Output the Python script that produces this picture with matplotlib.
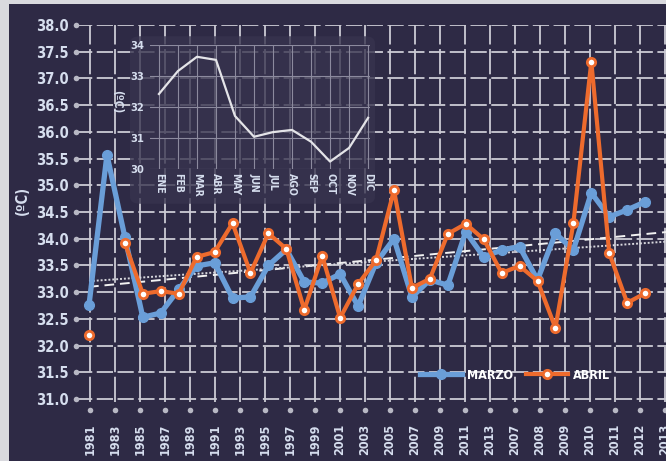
import matplotlib
matplotlib.use("Agg")
import matplotlib.pyplot as plt
import numpy as np
from matplotlib.patches import FancyBboxPatch, Rectangle

# category labels on the lower axis (as printed in the original)
year_labels = ["1981", "1983", "1985", "1987", "1989", "1991", "1993", "1995",
               "1997", "1999", "2001", "2003", "2005", "2007", "2009", "2011",
               "2013", "2007", "2008", "2009", "2010", "2011", "2012", "2013"]

# series values (one per data slot, 32 slots)
marzo = [32.76, 35.57, 34.03, 32.53, 32.61, 33.05, 33.49, 33.55,
         32.89, 32.91, 33.50, 33.80, 33.19, 33.17, 33.34, 32.74,
         33.55, 34.00, 32.91, 33.23, 33.13, 34.13, 33.66, 33.79,
         33.85, 33.23, 34.10, 33.79, 34.86, 34.41, 34.54, 34.69]
abril = [32.20, np.nan, 33.92, 32.97, 33.02, 32.97, 33.66, 33.75,
         34.29, 33.36, 34.10, 33.81, 32.67, 33.68, 32.52, 33.15,
         33.60, 34.91, 33.08, 33.25, 34.09, 34.28, 33.99, 33.36,
         33.49, 33.21, 32.33, 34.29, 37.31, 33.73, 32.80, 32.98]

# inset: monthly means
months = ["ENE", "FEB", "MAR", "ABR", "MAY", "JUN", "JUL", "AGO", "SEP", "OCT", "NOV", "DIC"]
monthly = [32.42, 33.16, 33.62, 33.52, 31.71, 31.04, 31.19, 31.26, 30.88, 30.24, 30.68, 31.65]

y_ticks = np.arange(31.0, 38.01, 0.5)

BG = "#2e2a45"
GRID = "#cccbd5"
LABEL = "#d6deee"
BLUE = "#6a9ed8"
ORANGE = "#ee6b2d"

plt.rcParams["font.family"] = ["Liberation Sans Narrow", "DejaVu Sans"]
plt.rcParams["font.stretch"] = "condensed"
plt.rcParams["font.weight"] = "bold"

fig = plt.figure(figsize=(6.66, 4.61), dpi=100, facecolor=BG)

W, H = 666, 461
# light frame of the original screenshot (top and left edges)
fig.patches.append(Rectangle((0, 0), 9 / W, 1, transform=fig.transFigure,
                             facecolor="#d9d9de", edgecolor="none", zorder=-1))
fig.patches.append(Rectangle((0, 1 - 4 / H), 1, 4 / H, transform=fig.transFigure,
                             facecolor="#d9d9de", edgecolor="none", zorder=-1))

left, right, top, bottom = 76, 690, 25, 401.7
ax = fig.add_axes([left / W, 1 - bottom / H, (right - left) / W, (bottom - top) / H])
ax.set_facecolor(BG)
for s in ax.spines.values():
  s.set_visible(False)
ax.spines["bottom"].set_position(("outward", 6))

# category axis (grid + labels)
ax.set_xlim((left - 90) / 25, (right - 90) / 25)
ax.set_ylim(30.95, 38.0)
ax.set_xticks(range(len(year_labels)))
ax.set_xticklabels(year_labels, rotation=90, fontsize=9)
ax.set_yticks(y_ticks)
ax.set_yticklabels([f"{v:.1f}" for v in y_ticks], fontsize=10.5)
ax.tick_params(axis="both", colors="#b8b8c4", labelcolor=LABEL, length=0, pad=5)
ax.tick_params(axis="x", pad=10)
for tl in ax.xaxis.get_ticklines() + ax.yaxis.get_ticklines():
  tl.set_marker("o")
  tl.set_markersize(4)
  tl.set_markeredgewidth(0)
  tl.set_markerfacecolor("#b8b8c4")
ax.xaxis.grid(True, color=GRID, lw=1.3, ls=(0, (14, 2.5)))
ax.yaxis.grid(True, color=GRID, lw=1.3, ls=(0, (9, 2.5)))

# data axis
ax2 = ax.twiny()
ax2.set_xlim((left - 89) / 17.94, (right - 89) / 17.94)
ax2.xaxis.set_visible(False)
for s in ax2.spines.values():
  s.set_visible(False)

x = np.arange(len(marzo))

# inset backing panel
panel = FancyBboxPatch((134 / W, 1 - 201 / H), 237 / W, 162 / H,
                       boxstyle="round,pad=0.006,rounding_size=0.015",
                       transform=fig.transFigure, facecolor="#37334e", edgecolor="none",
                       alpha=0.78, zorder=1)
ax2.add_patch(panel)

# linear trends
ext = np.array([0, 33.5])
for vals, style in ((marzo, dict(ls=(0, (5, 3)), lw=1.4, color="#f2f2f2")),
                    (abril, dict(ls=(0, (1, 1)), lw=1.4, color="#d8d8de"))):
  v = np.array(vals)
  ok = ~np.isnan(v)
  k, b = np.polyfit(x[ok], v[ok], 1)
  ax2.plot(ext, k * ext + b, zorder=2, **style)

ax2.plot(x, marzo, color=BLUE, lw=3.8, marker="o", ms=7, mfc=BLUE, mec=BLUE,
         solid_joinstyle="round", zorder=3, label="MARZO")
ax2.plot(x, abril, color=ORANGE, lw=3.0, marker="o", ms=6, mfc="white", mec=ORANGE,
         mew=2, solid_joinstyle="round", zorder=4, label="ABRIL")

leg = ax2.legend(loc="center", bbox_to_anchor=(515 / W, 1 - 375 / H),
                 bbox_transform=fig.transFigure, ncol=2, frameon=False,
                 handlelength=3.4, columnspacing=1.0, handletextpad=0.4,
                 fontsize=9)
for t in leg.get_texts():
  t.set_color("white")

fig.text(22 / W, 1 - 200 / H, "(ºC)", rotation=90, color=LABEL, fontsize=10.5,
         ha="center", va="center")

# inset axes
ins = fig.add_axes([150 / W, 1 - 169 / H, 220 / W, 124 / H])
ins.set_facecolor("none")
for s in ins.spines.values():
  s.set_visible(False)
ins.set_ylim(30, 34)
ins.set_xlim(-0.47, 11.1)
ins.set_yticks([30, 31, 32, 33, 34])
ins.set_xticks(range(len(months)))
ins.set_xticklabels(months, rotation=270, fontsize=7.5)
ins.tick_params(axis="y", labelcolor=LABEL, labelsize=8, length=0, pad=4)
ins.tick_params(axis="x", labelcolor=LABEL, length=0, pad=3)
ins.grid(True, color="#8c8a9e", lw=0.8)
ins.plot(range(len(monthly)), monthly, color="#e4e4e8", lw=1.6, zorder=3)
fig.text(117 / W, 1 - 102 / H, "(ºC)", rotation=270, color=LABEL, fontsize=8.5,
         ha="center", va="center")

fig.savefig("out.png", dpi=100, facecolor=BG)
